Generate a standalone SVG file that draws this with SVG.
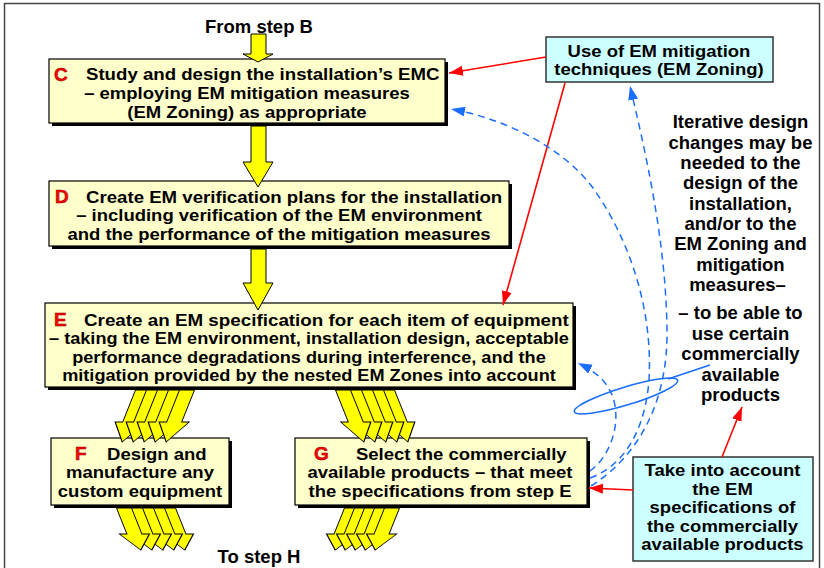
<svg xmlns="http://www.w3.org/2000/svg" width="824" height="568" viewBox="0 0 824 568">
<defs>
<style>
text{font-family:"Liberation Sans",Arial,sans-serif;font-weight:bold;font-size:16.5px;fill:#000}
.big{font-size:18.5px}
.side{font-size:17.5px}
.c{text-anchor:middle}
.lbl{fill:#FF0000;stroke:#8B0000;stroke-width:0.5;font-size:19px}
.box{fill:#FFFFCC;stroke:#000;stroke-width:1.2}
.shd{fill:#000}
.blue{fill:#CCFFFF;stroke:#333;stroke-width:1.5}
.ya{fill:#FFFF00;stroke:#000;stroke-width:1;stroke-linejoin:miter}
.red{stroke:#FF0000;stroke-width:1.6;fill:none;marker-end:url(#rh)}
.dash{stroke:#1A6EFF;stroke-width:1.5;fill:none;stroke-dasharray:7 5;marker-end:url(#bh)}
.lasso{stroke:#1A6EFF;stroke-width:1.6;fill:none}
.frame{fill:none;stroke:#444;stroke-width:1.5}
</style>
<marker id="rh" markerUnits="userSpaceOnUse" markerWidth="16" markerHeight="12" refX="14" refY="5" orient="auto"><path d="M0,0 L14,5 L0,10 z" fill="#FF0000"/></marker>
<marker id="bh" markerUnits="userSpaceOnUse" markerWidth="16" markerHeight="12" refX="14" refY="5" orient="auto"><path d="M0,0 L14,5 L0,10 z" fill="#1A6EFF"/></marker>
<path id="mTop" d="M-7.5,0 L7.5,0 L7.5,32 L15,32 L0,52 L-15,32 L-7.5,32 Z"/>
<path id="mBot" d="M-7.5,0 L7.5,0 L7.5,26 L15,26 L0,42 L-15,26 L-7.5,26 Z"/>
</defs>

<rect class="frame" x="4.5" y="3.5" width="815" height="580"/>

<text class="c big" x="259" y="33">From step B</text>
<text class="c big" x="259" y="563">To step H</text>

<g id="nodeC">
<rect class="shd" x="52" y="62" width="396" height="64"/>
<rect class="box" x="49" y="59" width="396" height="64"/>
<text class="lbl" x="54" y="80.5">C</text>
<g transform="matrix(1.13 0 0 1 -11.18 0)">
<text x="86" y="80.5">Study and design the installation’s EMC</text>
</g>
<g transform="matrix(1.1212 0 0 1 -29.94 0)">
<text class="c" x="247" y="99.5">– employing EM mitigation measures</text>
<text class="c" x="247" y="118.5">(EM Zoning) as appropriate</text>
</g>
</g>

<g id="nodeD">
<rect class="shd" x="52" y="184" width="460" height="65"/>
<rect class="box" x="49" y="181" width="460" height="65"/>
<text class="lbl" x="55" y="203">D</text>
<g transform="matrix(1.13 0 0 1 -11.18 0)">
<text x="86" y="203">Create EM verification plans for the installation</text>
</g>
<g transform="matrix(1.1212 0 0 1 -33.81 0)">
<text class="c" x="279" y="221.5">– including verification of the EM environment</text>
<text class="c" x="279" y="240">and the performance of the mitigation measures</text>
</g>
</g>

<g id="nodeE">
<rect class="shd" x="48" y="306" width="528" height="84"/>
<rect class="box" x="45" y="303" width="528" height="84"/>
<text class="lbl" x="54" y="325.7">E</text>
<g transform="matrix(1.14 0 0 1 -11.76 0)">
<text x="84" y="325.7">Create an EM specification for each item of equipment</text>
</g>
<g transform="matrix(1.10 0 0 1 -30.9 0)">
<text class="c" x="309" y="344.3">– taking the EM environment, installation design, acceptable</text>
<text class="c" x="309" y="363">performance degradations during interference, and the</text>
<text class="c" x="309" y="381.5">mitigation provided by the nested EM Zones into account</text>
</g>
</g>

<g id="nodeF">
<rect class="shd" x="54" y="441" width="178" height="67"/>
<rect class="box" x="51" y="438" width="178" height="67"/>
<text class="lbl" x="75" y="460">F</text>
<g transform="matrix(1.1212 0 0 1 -16.97 0)">
<text x="110.6" y="460">Design and</text>
<text class="c" x="140" y="478.5">manufacture any</text>
<text class="c" x="140" y="497">custom equipment</text>
</g>
</g>

<g id="nodeG">
<rect class="shd" x="298" y="441" width="292" height="67"/>
<rect class="box" x="295" y="438" width="292" height="67"/>
<text class="lbl" x="314" y="460">G</text>
<g transform="matrix(1.1212 0 0 1 -53.33 0)">
<text x="365.1" y="460">Select the commercially</text>
<text class="c" x="440" y="478.5">available products – that meet</text>
<text class="c" x="440" y="497">the specifications from step E</text>
</g>
</g>

<g id="noteZoning">
<rect class="blue" x="546" y="37" width="227" height="45"/>
<g transform="matrix(1.1212 0 0 1 -79.87 0)">
<text class="c" x="659" y="56.7">Use of EM mitigation</text>
<text class="c" x="659" y="75.5">techniques (EM Zoning)</text>
</g>
</g>

<g id="noteSpecs">
<rect class="blue" x="633" y="457" width="180" height="104"/>
<g transform="matrix(1.1212 0 0 1 -87.57 0)">
<text class="c" x="722.5" y="476.5">Take into account</text>
<text class="c" x="722.5" y="495">the EM</text>
<text class="c" x="722.5" y="513.5">specifications of</text>
<text class="c" x="722.5" y="532">the commercially</text>
<text class="c" x="722.5" y="550.5">available products</text>
</g>
</g>

<g id="noteIterative">
<g transform="matrix(1.0571 0 0 1 -42.3 0)">
<text class="c side" x="740.5" y="128.3">Iterative design</text>
<text class="c side" x="740.5" y="148.6">changes may be</text>
<text class="c side" x="740.5" y="169">needed to the</text>
<text class="c side" x="740.5" y="189.3">design of the</text>
<text class="c side" x="740.5" y="209.7">installation,</text>
<text class="c side" x="740.5" y="230">and/or to the</text>
<text class="c side" x="740.5" y="250.4">EM Zoning and</text>
<text class="c side" x="740.5" y="270.7">mitigation</text>
<text class="c side" x="737.7" y="291.1">measures–</text>
<text class="c side" x="740.5" y="319.5">– to be able to</text>
<text class="c side" x="740.5" y="340">use certain</text>
<text class="c side" x="740.5" y="360.5">commercially</text>
<text class="c side" x="740.5" y="381">available</text>
<text class="c side" x="740.5" y="401.3">products</text>
</g>
</g>

<g id="connectors">
<path class="ya" d="M251,34 L266,34 L266,54 L273,54 L258,62 L243,54 L251,54 Z"/>
<path class="ya" d="M251,126 L266,126 L266,162 L273,162 L258,187 L243,162 L251,162 Z"/>
<path class="ya" d="M251,249 L266,249 L266,283 L273,283 L258,310 L243,283 L251,283 Z"/>

<use href="#mTop" class="ya" transform="translate(143,390) skewX(-21.8)"/>
<use href="#mTop" class="ya" transform="translate(154,390) skewX(-21.8)"/>
<use href="#mTop" class="ya" transform="translate(165,390) skewX(-21.8)"/>
<use href="#mTop" class="ya" transform="translate(176,390) skewX(-21.8)"/>
<use href="#mTop" class="ya" transform="translate(187,390) skewX(-21.8)"/>

<use href="#mTop" class="ya" transform="translate(387,390) skewX(21.8)"/>
<use href="#mTop" class="ya" transform="translate(376,390) skewX(21.8)"/>
<use href="#mTop" class="ya" transform="translate(365,390) skewX(21.8)"/>
<use href="#mTop" class="ya" transform="translate(354,390) skewX(21.8)"/>
<use href="#mTop" class="ya" transform="translate(343,390) skewX(21.8)"/>

<use href="#mBot" class="ya" transform="translate(168,508) skewX(21.8)"/>
<use href="#mBot" class="ya" transform="translate(157,508) skewX(21.8)"/>
<use href="#mBot" class="ya" transform="translate(146,508) skewX(21.8)"/>
<use href="#mBot" class="ya" transform="translate(135,508) skewX(21.8)"/>
<use href="#mBot" class="ya" transform="translate(124,508) skewX(21.8)"/>

<use href="#mBot" class="ya" transform="translate(352,508) skewX(-21.8)"/>
<use href="#mBot" class="ya" transform="translate(362,508) skewX(-21.8)"/>
<use href="#mBot" class="ya" transform="translate(372,508) skewX(-21.8)"/>
<use href="#mBot" class="ya" transform="translate(382,508) skewX(-21.8)"/>
<use href="#mBot" class="ya" transform="translate(392,508) skewX(-21.8)"/>

<path class="red" d="M546,57 L449,73"/>
<path class="red" d="M565,83 L503,305"/>
<path class="red" d="M633,490 L589,488"/>
<path class="red" d="M722,457 L742,407"/>

<path class="dash" d="M590,478 C625,465 645,430 649,380 C653,310 630,240 593,188 C565,150 510,120 451,109"/>
<path class="dash" d="M590,471 C612,455 622,420 612,395 C605,378 592,370 578,363"/>
<path class="dash" d="M591,486 C640,455 668,400 667,330 C666,240 645,150 630,86"/>

<ellipse class="lasso" cx="626" cy="396" rx="54" ry="9" transform="rotate(-17 626 396)"/>
<path class="lasso" d="M668,379 L710,365"/>
</g>
</svg>
